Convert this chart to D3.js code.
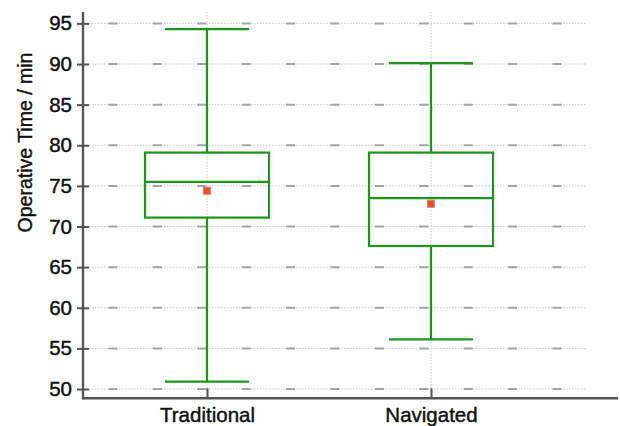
<!DOCTYPE html>
<html>
<head>
<meta charset="utf-8">
<script src="https://cdn.jsdelivr.net/npm/d3@7"></script>
<style>
  html, body { margin: 0; padding: 0; background: #fff; }
  svg { display: block; font-family: "Liberation Sans", Arial, sans-serif; }
</style>
</head>
<body>
<svg id="chart" width="620" height="426"></svg>
<script>
// ---- data ----
const categories = ["Traditional", "Navigated"];
const whiskerLow  = [50.9, 56.1];
const q1          = [71.1, 67.6];
const median      = [75.5, 73.5];
const q3          = [79.1, 79.1];
const whiskerHigh = [94.3, 90.1];
const means       = [74.4, 72.8];
const yTicks      = [50, 55, 60, 65, 70, 75, 80, 85, 90, 95];
const yTitle      = "Operative Time / min";

const svg = d3.select("#chart");

const x = d3.scalePoint().domain(categories).range([207, 431]);
const y = d3.scaleLinear().domain([48.86, 96.4]).range([398.3, 12]);

const xLeft = 83, gridRight = 587, axisRight = 618;
const green = "#1a961a";

// horizontal gridlines: dotted + periodic dashes
const grid = svg.append("g");
yTicks.forEach(t => {
  grid.append("line")
    .attr("x1", xLeft).attr("x2", gridRight)
    .attr("y1", y(t)).attr("y2", y(t))
    .attr("stroke", "#c4c4c4").attr("stroke-width", 1)
    .attr("stroke-dasharray", "1.5,1.5");
  grid.append("line")
    .attr("x1", xLeft).attr("x2", gridRight)
    .attr("y1", y(t)).attr("y2", y(t))
    .attr("stroke", "#a4a4a4").attr("stroke-width", 2)
    .attr("stroke-dasharray", "9,35.4")
    .attr("stroke-dashoffset", 18.9);
});
// vertical dotted gridlines at categories
categories.forEach(c => {
  grid.append("line")
    .attr("x1", x(c)).attr("x2", x(c))
    .attr("y1", y(96.4)).attr("y2", y(48.86))
    .attr("stroke", "#c8c8c8").attr("stroke-width", 1)
    .attr("stroke-dasharray", "1.5,1.5");
});

// boxes
const boxW = 124, capW = 84;
const g = svg.append("g").attr("fill", "none").attr("stroke", green).attr("stroke-width", 2.2);
categories.forEach((c, i) => {
  const cx = x(c);
  g.append("line").attr("x1", cx).attr("x2", cx).attr("y1", y(whiskerHigh[i])).attr("y2", y(q3[i]));
  g.append("line").attr("x1", cx).attr("x2", cx).attr("y1", y(q1[i])).attr("y2", y(whiskerLow[i]));
  g.append("line").attr("x1", cx - capW / 2).attr("x2", cx + capW / 2).attr("y1", y(whiskerHigh[i])).attr("y2", y(whiskerHigh[i]));
  g.append("line").attr("x1", cx - capW / 2).attr("x2", cx + capW / 2).attr("y1", y(whiskerLow[i])).attr("y2", y(whiskerLow[i]));
  g.append("rect").attr("x", cx - boxW / 2).attr("width", boxW)
    .attr("y", y(q3[i])).attr("height", y(q1[i]) - y(q3[i]));
  g.append("line").attr("x1", cx - boxW / 2).attr("x2", cx + boxW / 2).attr("y1", y(median[i])).attr("y2", y(median[i]));
  svg.append("rect").attr("x", cx - 3.5).attr("y", y(means[i]) - 3.5)
    .attr("width", 7).attr("height", 7)
    .attr("fill", "#f0500f").attr("stroke", "#dc7aa0").attr("stroke-width", 1);
});

// y axis
const yAxis = svg.append("g").attr("transform", `translate(${xLeft},0)`)
  .call(d3.axisLeft(y).tickValues(yTicks).tickSize(0).tickPadding(11));
yAxis.select(".domain").remove();
yAxis.selectAll("text").attr("font-size", 20.5).attr("fill", "#111")
  .attr("stroke", "#111").attr("stroke-width", 0.45)
  .attr("font-family", "Liberation Sans, Arial, sans-serif");
yAxis.selectAll(".tick").append("line")
  .attr("x1", -6).attr("x2", 6).attr("stroke", "#555").attr("stroke-width", 2);
svg.append("line").attr("x1", xLeft).attr("x2", xLeft).attr("y1", 12).attr("y2", 399.5)
  .attr("stroke", "#555").attr("stroke-width", 2.4);

// x axis
const xAxis = svg.append("g").attr("transform", `translate(0,${y(48.86)})`)
  .call(d3.axisBottom(x).tickSize(0).tickPadding(9));
xAxis.select(".domain").remove();
xAxis.selectAll("text").attr("font-size", 20.5).attr("fill", "#111")
  .attr("stroke", "#111").attr("stroke-width", 0.45)
  .attr("font-family", "Liberation Sans, Arial, sans-serif");
xAxis.selectAll(".tick").append("line")
  .attr("y1", 0).attr("y2", -10).attr("stroke", "#555").attr("stroke-width", 2);
svg.append("line").attr("x1", xLeft).attr("x2", axisRight).attr("y1", y(48.86)).attr("y2", y(48.86))
  .attr("stroke", "#555").attr("stroke-width", 2.4);

// y title
svg.append("text")
  .attr("transform", "translate(32,142.5) rotate(-90)")
  .attr("text-anchor", "middle")
  .attr("font-size", 19.5).attr("fill", "#111")
  .attr("stroke", "#111").attr("stroke-width", 0.4)
  .text(yTitle);
</script>
</body>
</html>
